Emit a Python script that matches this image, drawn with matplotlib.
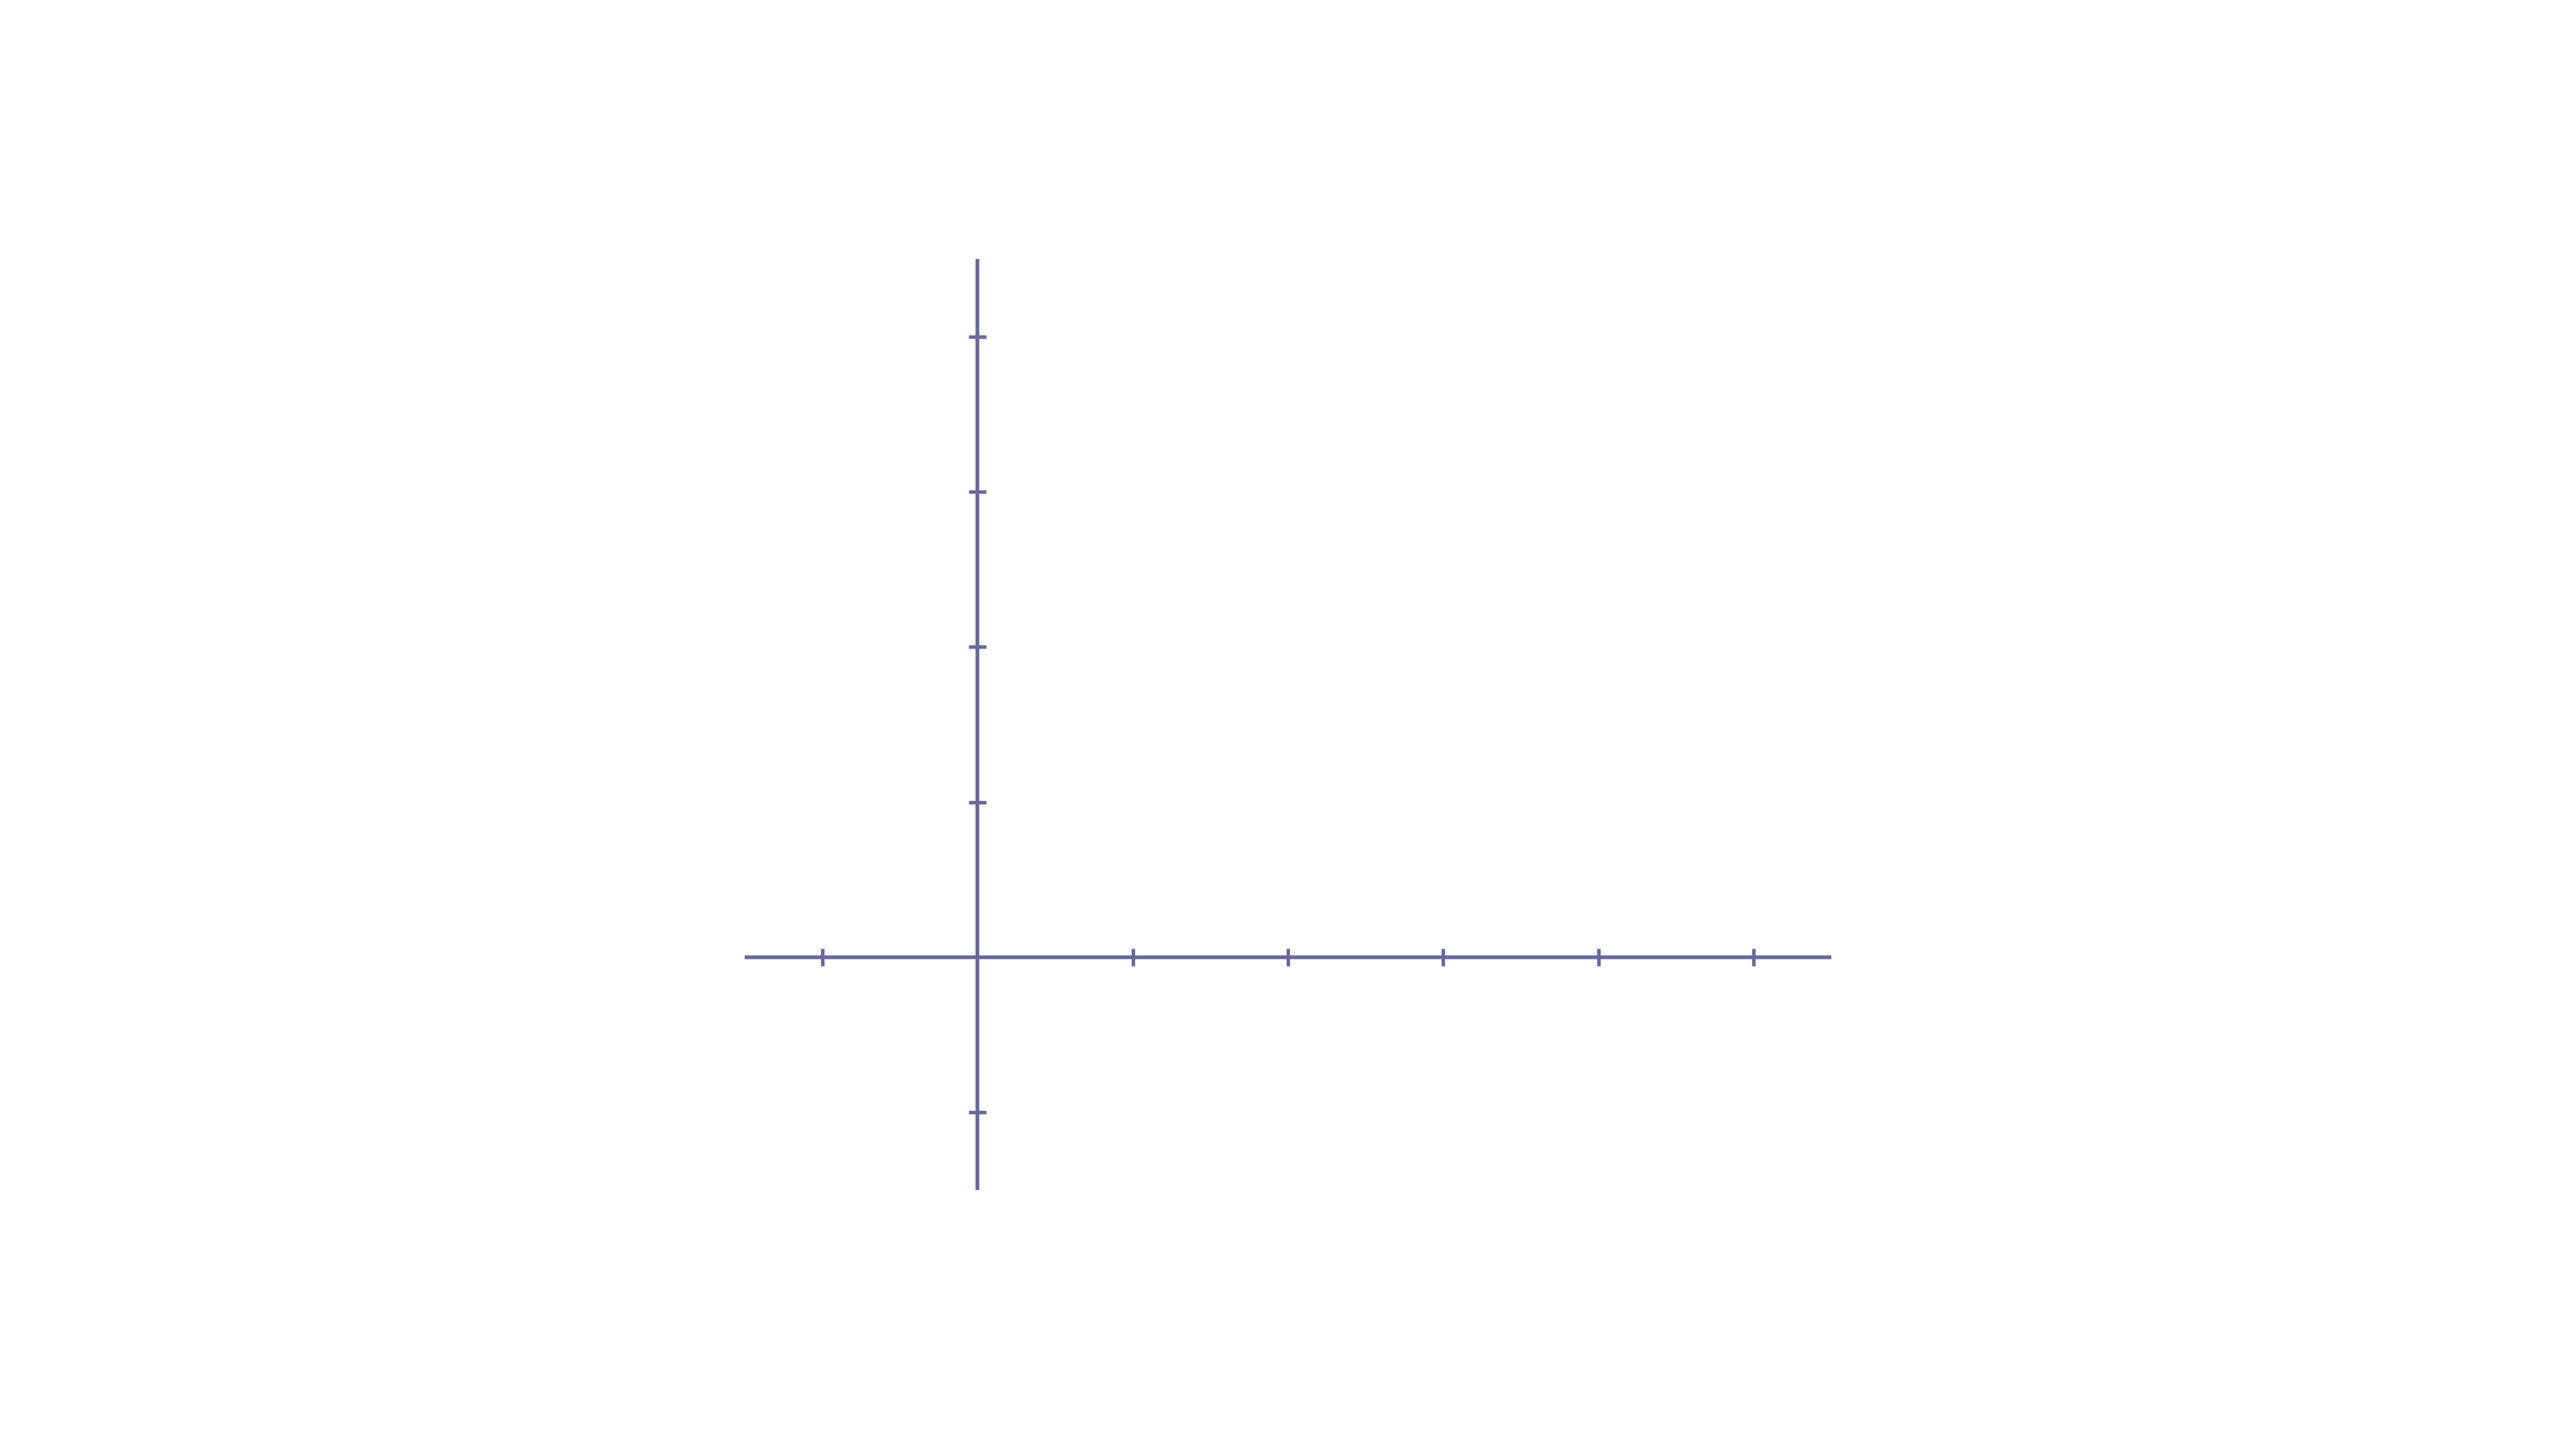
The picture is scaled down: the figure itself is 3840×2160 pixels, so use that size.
'''
Blank coordinate axes through the origin
'''

import matplotlib
matplotlib.use('Agg')
import matplotlib.pyplot as plt

# Main Vars
X_TICKS = [-1, 1, 2, 3, 4, 5]
Y_TICKS = [-1, 1, 2, 3, 4]
X_RANGE = [-1.5, 5.5]
Y_RANGE = [-1.5, 4.5]

AXIS_COLOR = '#68689c'

fig = plt.figure(figsize=(38.4, 21.6), dpi=100)
ax = fig.add_axes([1110 / 3840, 386 / 2160, 1620 / 3840, 1388 / 2160])

ax.set_xlim(X_RANGE)
ax.set_ylim(Y_RANGE)
ax.set_xticks(X_TICKS)
ax.set_yticks(Y_TICKS)
ax.set_xticklabels([])
ax.set_yticklabels([])

# Spines through origin
for side in ['top', 'right']:
    ax.spines[side].set_visible(False)
for side in ['left', 'bottom']:
    ax.spines[side].set_position(('data', 0))
    ax.spines[side].set_color(AXIS_COLOR)
    ax.spines[side].set_linewidth(4.0)
    ax.spines[side].set_capstyle('butt')

ax.tick_params(axis='both', direction='inout', length=19, width=3.8, color=AXIS_COLOR)
ax.patch.set_visible(False)

fig.savefig('out.png', dpi=100)
